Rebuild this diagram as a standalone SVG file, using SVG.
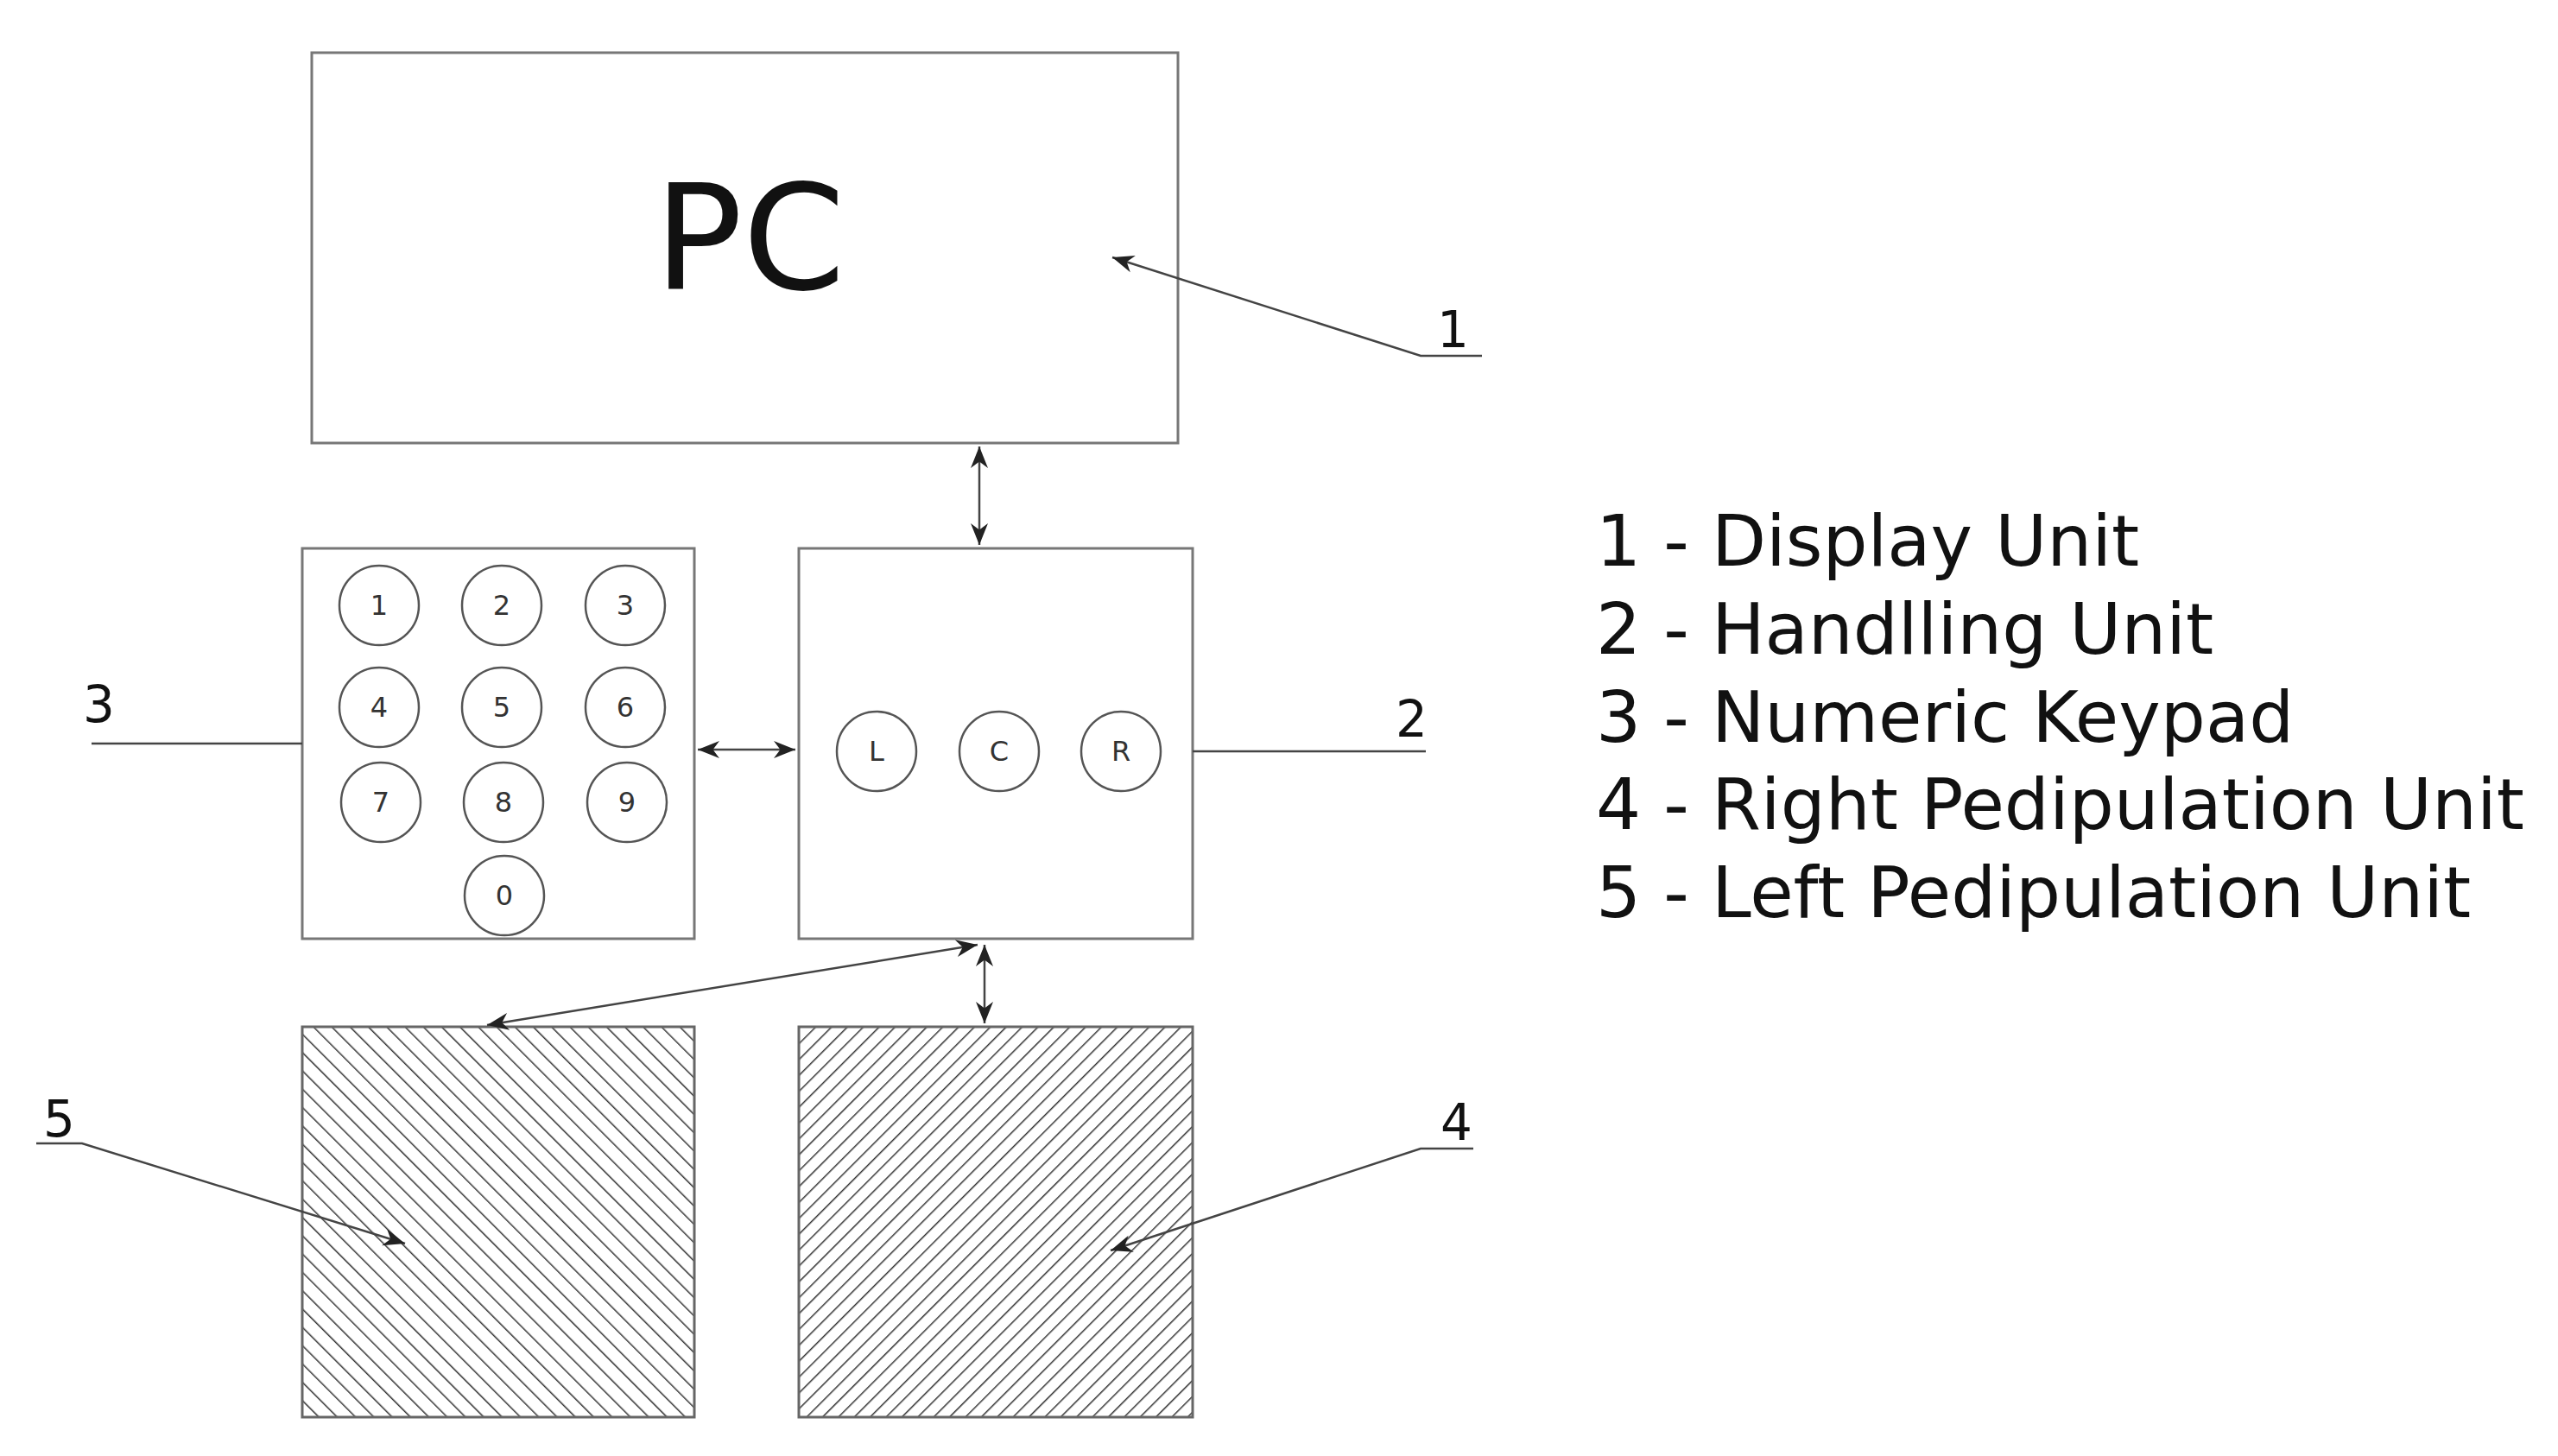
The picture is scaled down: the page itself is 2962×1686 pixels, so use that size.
<svg xmlns="http://www.w3.org/2000/svg" width="2962" height="1686" viewBox="0 0 2962 1686">
<style>
.box{fill:#fff;stroke:#777;stroke-width:3}
.key{fill:#fff;stroke:#555;stroke-width:2.5}
.kt{font-family:"DejaVu Sans",sans-serif;font-size:32px;fill:#333;text-anchor:middle}
.ln{fill:none;stroke:#444;stroke-width:2.5}
.lb{font-family:"DejaVu Sans",sans-serif;font-size:58px;fill:#111}
.lg{font-family:"DejaVu Sans",sans-serif;font-size:82px;fill:#111}
</style>
<defs>
<marker id="a" viewBox="0 0 10 10" refX="10" refY="5" markerWidth="10" markerHeight="10" markerUnits="strokeWidth" orient="auto-start-reverse"><path d="M0,1 L10,5 L0,9 L3,5 z" fill="#222"/></marker>
<pattern id="hl" width="15" height="15" patternUnits="userSpaceOnUse" patternTransform="rotate(-45)"><rect width="15" height="15" fill="#fff"/><line x1="0" y1="0" x2="0" y2="15" stroke="#333" stroke-width="3"/></pattern>
<pattern id="hr" width="13" height="13" patternUnits="userSpaceOnUse" patternTransform="rotate(45)"><rect width="13" height="13" fill="#fff"/><line x1="0" y1="0" x2="0" y2="13" stroke="#333" stroke-width="3"/></pattern>
</defs>
<g id="pc"><rect class="box" x="361" y="61" width="1003" height="452"/><text x="868" y="335" font-family="DejaVu Sans,sans-serif" font-size="170" text-anchor="middle" fill="#111">PC</text></g>
<g id="keypad"><rect class="box" x="350" y="635" width="454" height="452"/>
<circle class="key" cx="439" cy="701" r="46"/><text class="kt" x="439" y="712">1</text>
<circle class="key" cx="581" cy="701" r="46"/><text class="kt" x="581" y="712">2</text>
<circle class="key" cx="724" cy="701" r="46"/><text class="kt" x="724" y="712">3</text>
<circle class="key" cx="439" cy="819" r="46"/><text class="kt" x="439" y="830">4</text>
<circle class="key" cx="581" cy="819" r="46"/><text class="kt" x="581" y="830">5</text>
<circle class="key" cx="724" cy="819" r="46"/><text class="kt" x="724" y="830">6</text>
<circle class="key" cx="441" cy="929" r="46"/><text class="kt" x="441" y="940">7</text>
<circle class="key" cx="583" cy="929" r="46"/><text class="kt" x="583" y="940">8</text>
<circle class="key" cx="726" cy="929" r="46"/><text class="kt" x="726" y="940">9</text>
<circle class="key" cx="584" cy="1037" r="46"/><text class="kt" x="584" y="1048">0</text>
</g>
<g id="handling"><rect class="box" x="925" y="635" width="456" height="452"/>
<circle class="key" cx="1015" cy="870" r="46"/><text class="kt" x="1015" y="881">L</text>
<circle class="key" cx="1157" cy="870" r="46"/><text class="kt" x="1157" y="881">C</text>
<circle class="key" cx="1298" cy="870" r="46"/><text class="kt" x="1298" y="881">R</text>
</g>
<g id="left-ped"><rect x="350" y="1189" width="454" height="452" fill="url(#hl)" stroke="#666" stroke-width="3"/></g>
<g id="right-ped"><rect x="925" y="1189" width="456" height="452" fill="url(#hr)" stroke="#666" stroke-width="3"/></g>
<g id="connectors">
<line class="ln" x1="1134" y1="517" x2="1134" y2="631" marker-start="url(#a)" marker-end="url(#a)"/>
<line class="ln" x1="808" y1="868" x2="921" y2="868" marker-start="url(#a)" marker-end="url(#a)"/>
<line class="ln" x1="1132" y1="1094" x2="564" y2="1187" marker-start="url(#a)" marker-end="url(#a)"/>
<line class="ln" x1="1140" y1="1094" x2="1140" y2="1185" marker-start="url(#a)" marker-end="url(#a)"/>
<polyline class="ln" points="1716,412 1645,412 1288,298" marker-end="url(#a)"/>
<line class="ln" x1="106" y1="861" x2="350" y2="861"/>
<line class="ln" x1="1381" y1="870" x2="1651" y2="870"/>
<polyline class="ln" points="42,1324 95,1324 469,1440" marker-end="url(#a)"/>
<polyline class="ln" points="1706,1330 1645,1330 1286,1448" marker-end="url(#a)"/>
</g>
<g id="labels">
<text class="lb" x="1664" y="402">1</text>
<text class="lb" x="1616" y="853">2</text>
<text class="lb" x="96" y="836">3</text>
<text class="lb" x="1668" y="1320">4</text>
<text class="lb" x="50" y="1316">5</text>
</g>
<g id="legend">
<text class="lg" x="1848" y="655">1 - Display Unit</text>
<text class="lg" x="1848" y="757">2 - Handlling Unit</text>
<text class="lg" x="1848" y="859">3 - Numeric Keypad</text>
<text class="lg" x="1848" y="960">4 - Right Pedipulation Unit</text>
<text class="lg" x="1848" y="1062">5 - Left Pedipulation Unit</text>
</g>
</svg>
